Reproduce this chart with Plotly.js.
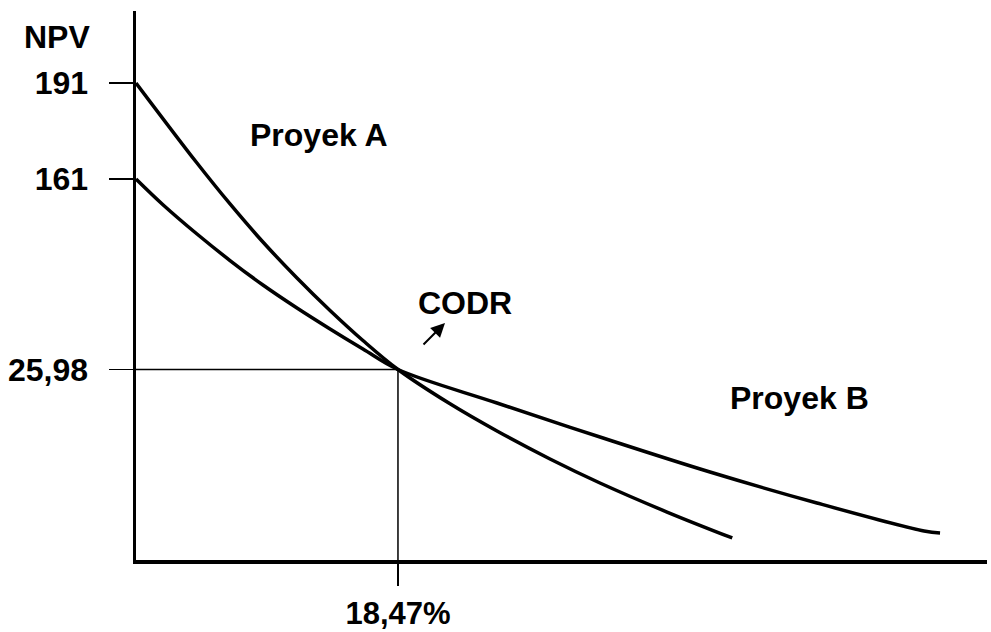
<!DOCTYPE html>
<html>
<head>
<meta charset="utf-8">
<script src="https://cdn.plot.ly/plotly-3.0.1.min.js"></script>
<style>html,body{margin:0;padding:0;background:#fff;}#chart{width:991px;height:632px;}</style>
</head>
<body>
<div id="chart"></div>
<script>
// Schematic NPV profile (x: discount rate %, y: drawn height units, labelled by NPV ticks)
const rateA = [0, 4.30, 6.63, 8.95, 11.35, 13.68, 16.00, 18.47, 22.14, 25.45, 29.19, 32.71, 37.44, 42.04];
const npvA  = [86.89, 72.31, 64.85, 57.92, 51.37, 45.45, 39.98, 34.70, 28.45, 23.50, 18.40, 14.03, 8.74, 4.01];
const rateB = [0, 1.90, 4.30, 6.63, 8.95, 11.35, 13.68, 16.00, 18.47, 25.45, 32.93, 40.47, 48.01, 55.56, 56.69];
const npvB  = [69.40, 64.72, 59.38, 54.55, 50.09, 45.90, 42.08, 38.43, 34.70, 28.60, 22.22, 16.03, 10.38, 5.28, 4.90];
const yTickVals = [86.89, 69.40, 34.70];
const yTickText = ['191', '161', '25,98'];
const xTickVals = [18.47];
const xTickText = ['18,47%'];
const codrRate = 18.47;
const codrLevel = 34.70;
const labels = {npv: 'NPV', a: 'Proyek A', b: 'Proyek B', codr: 'CODR'};

const W = 991, H = 632;
const M = {l: 136, r: 4, t: 11, b: 72};
const pw = W - M.l - M.r, ph = H - M.t - M.b;
const px = x => (x - M.l) / pw;
const py = y => (H - M.b - y) / ph;
const FONT = {family: 'Liberation Sans, Arial, sans-serif', size: 32, color: '#000', weight: 'bold'};
const XFONT = {family: 'Liberation Sans, Arial, sans-serif', size: 31, color: '#000', weight: 'bold'};

const traces = [
  {x: rateA, y: npvA, mode: 'lines', line: {color: '#000', width: 3.5, shape: 'spline', smoothing: 1}, hoverinfo: 'skip'},
  {x: rateB, y: npvB, mode: 'lines', line: {color: '#000', width: 3.5, shape: 'spline', smoothing: 1}, hoverinfo: 'skip'},
  {x: [0, codrRate, codrRate], y: [codrLevel, codrLevel, 0], mode: 'lines', line: {color: '#000', width: 1.5}, hoverinfo: 'skip'}
];

const layout = {
  width: W, height: H,
  margin: M,
  paper_bgcolor: '#fff', plot_bgcolor: '#fff',
  showlegend: false,
  font: FONT,
  xaxis: {
    range: [0, 60], showgrid: false, zeroline: false,
    showline: true, linecolor: '#000', linewidth: 3.5,
    ticks: 'outside', ticklen: 22, tickwidth: 1.5, tickcolor: '#000',
    tickvals: xTickVals, ticktext: xTickText, ticklabelstandoff: 1,
    tickfont: XFONT, fixedrange: true
  },
  yaxis: {
    range: [0, 100], showgrid: false, zeroline: false,
    showline: true, linecolor: '#000', linewidth: 3.5,
    ticks: 'outside', ticklen: 24, tickwidth: 1.5, tickcolor: '#000',
    tickvals: yTickVals, ticktext: yTickText, ticklabelstandoff: 14,
    tickfont: FONT, fixedrange: true
  },
  annotations: [
    {xref: 'paper', yref: 'paper', x: px(57), y: py(37), text: labels.npv, showarrow: false, xanchor: 'center', yanchor: 'middle', font: FONT},
    {xref: 'paper', yref: 'paper', x: px(319), y: py(135), text: labels.a, showarrow: false, xanchor: 'center', yanchor: 'middle', font: FONT},
    {xref: 'paper', yref: 'paper', x: px(799), y: py(398), text: labels.b, showarrow: false, xanchor: 'center', yanchor: 'middle', font: FONT},
    {xref: 'paper', yref: 'paper', x: px(465), y: py(303), text: labels.codr, showarrow: false, xanchor: 'center', yanchor: 'middle', font: FONT},
    {xref: 'paper', yref: 'paper', x: px(445), y: py(323), text: '', showarrow: true, ax: -23, ay: 23,
     arrowhead: 2, arrowsize: 1.4, arrowwidth: 2, arrowcolor: '#000', standoff: 0}
  ]
};

Plotly.newPlot('chart', traces, layout, {displayModeBar: false, staticPlot: true});
</script>
</body>
</html>
